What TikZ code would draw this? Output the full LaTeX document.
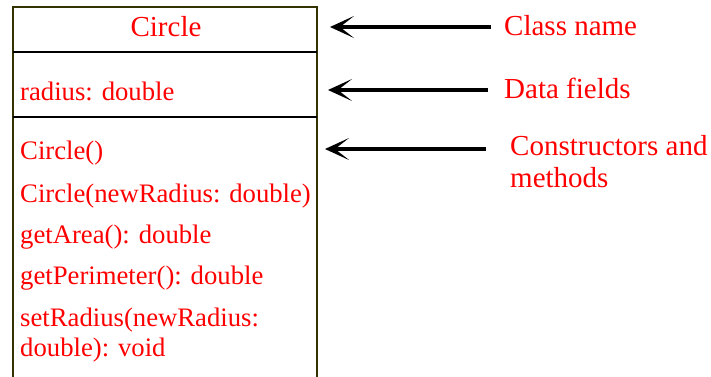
\documentclass[tikz,border=0pt]{standalone}
\usepackage{fontspec}
\setmainfont{Liberation Serif}
\usetikzlibrary{arrows.meta}
\definecolor{umlred}{RGB}{255,0,0}
\definecolor{olive}{RGB}{51,51,0}
\tikzset{
  boxtext/.style={anchor=base west, inner sep=0pt, text=umlred, font=\fontsize{26.7}{29.4}\selectfont, align=left},
  labeltext/.style={anchor=base west, inner sep=0pt, text=umlred, font=\fontsize{29}{32}\selectfont, align=left},
  pointer/.style={line width=4.2pt, -{Stealth[length=24pt,width=22pt,inset=14pt]}}
}
\begin{document}
\begin{tikzpicture}[x=1pt,y=-1pt]
\useasboundingbox (0,0) rectangle (711,376);
\clip (0,0) rectangle (711,376);
% class box
\draw[line width=2.5pt, olive] (13,390) -- (13,7) -- (317,7) -- (317,390);
\draw[line width=2.2pt] (13,52) -- (317,52);
\draw[line width=2.2pt] (13,117) -- (317,117);
% texts in box
\node[labeltext, anchor=base] (title) at (166,36) {Circle};
\node[boxtext] (field) at (20,100) {radius: double};
\node[boxtext] (m1) at (20,159) {Circle()};
\node[boxtext] (m2) at (20,202) {Circle(newRadius: double)};
\node[boxtext] (m3) at (20,243) {getArea(): double};
\node[boxtext] (m4) at (20,284) {getPerimeter(): double};
\node[boxtext] (m5) at (20,356) {setRadius(newRadius:\\double): void};
% labels
\node[labeltext] (lclass) at (504,35) {Class name};
\node[labeltext] (lfield) at (504,98) {Data fields};
\node[labeltext] (lmeth) at (510,187) {Constructors and\\methods};
% arrow end points
\coordinate (a1s) at (491,27);
\coordinate (a1e) at (330,27);
\coordinate (a2s) at (488,90);
\coordinate (a2e) at (328,90);
\coordinate (a3s) at (486,149);
\coordinate (a3e) at (325,149);
\draw[pointer] (a1s) -- (a1e);
\draw[pointer] (a2s) -- (a2e);
\draw[pointer] (a3s) -- (a3e);
\end{tikzpicture}
\end{document}
